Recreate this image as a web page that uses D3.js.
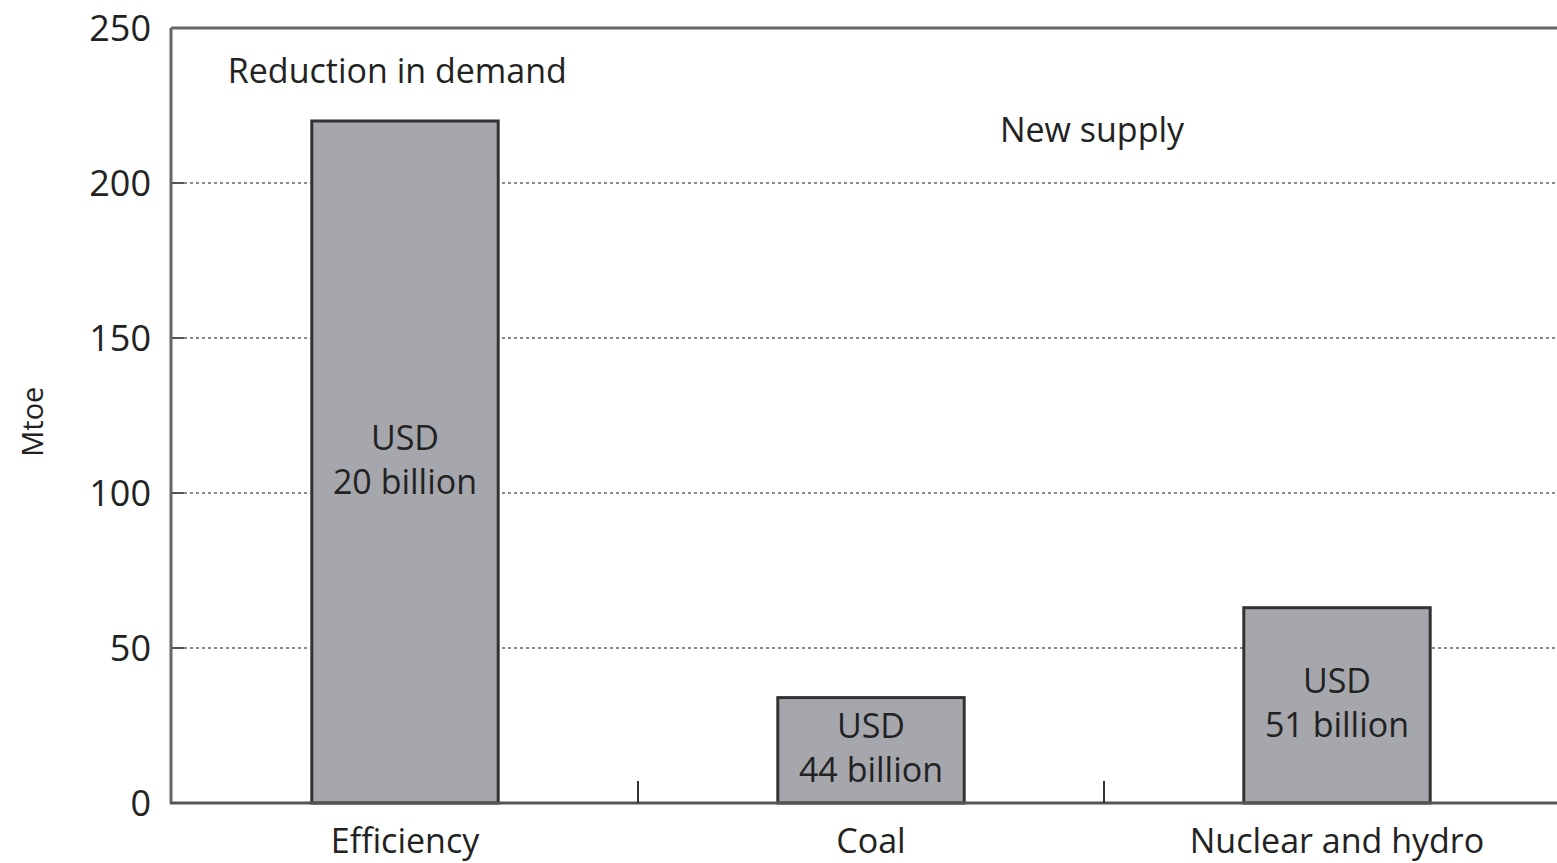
<!DOCTYPE html>
<html><head><meta charset="utf-8">
<script src="https://cdn.jsdelivr.net/npm/d3@7"></script>
<style>body{margin:0;background:#fff}svg{display:block}text{font-family:"Open Sans",Lato,sans-serif;fill:#222}</style>
</head><body>
<script>
const categories = ["Efficiency", "Coal", "Nuclear and hydro"];
const values = [220, 34, 63];
const barLabels = [["USD", "20 billion"], ["USD", "44 billion"], ["USD", "51 billion"]];
const yTicks = [0, 50, 100, 150, 200, 250];
const groupLabels = ["Reduction in demand", "New supply"];

const W = 1557, H = 863;
const svg = d3.select("body").append("svg").attr("width", W).attr("height", H);
const x = d3.scaleBand().domain(categories).range([172, 1570]).paddingInner(0.6).paddingOuter(0.3);
const y = d3.scaleLinear().domain([0, 250]).range([803, 28]);
const step = x.step();
const fs = 34;

// grid lines
svg.append("g").selectAll("line").data(yTicks.filter(t => t > 0 && t < 250)).join("line")
  .attr("x1", 172).attr("x2", W).attr("y1", d => y(d)).attr("y2", d => y(d))
  .attr("stroke", "#8a8a8a").attr("stroke-width", 2).attr("stroke-dasharray", "3,3");
svg.append("g").selectAll("line").data(yTicks.filter(t => t > 0 && t < 250)).join("line")
  .attr("x1", 172).attr("x2", 184).attr("y1", d => y(d)).attr("y2", d => y(d))
  .attr("stroke", "#555").attr("stroke-width", 2);

// frame
svg.append("line").attr("x1", 171).attr("x2", W).attr("y1", y(250)).attr("y2", y(250)).attr("stroke", "#666").attr("stroke-width", 3);
svg.append("line").attr("x1", 171).attr("x2", 171).attr("y1", y(250)).attr("y2", y(0)).attr("stroke", "#666").attr("stroke-width", 3);

// bars
svg.append("g").selectAll("rect").data(categories).join("rect")
  .attr("x", d => x(d)).attr("width", x.bandwidth())
  .attr("y", (d, i) => y(values[i])).attr("height", (d, i) => y(0) - y(values[i]))
  .attr("fill", "#a5a7ad").attr("stroke", "#333").attr("stroke-width", 3);

// baseline
svg.append("line").attr("x1", 170).attr("x2", W).attr("y1", y(0)).attr("y2", y(0)).attr("stroke", "#555").attr("stroke-width", 3);
svg.append("g").selectAll("line").data(categories.slice(1)).join("line")
  .attr("x1", d => x(d) - x.paddingInner() * step / 2).attr("x2", d => x(d) - x.paddingInner() * step / 2)
  .attr("y1", y(0)).attr("y2", y(0) - 22).attr("stroke", "#333").attr("stroke-width", 2);

// y tick labels
svg.append("g").selectAll("text").data(yTicks).join("text")
  .attr("x", 151).attr("y", d => y(d)).attr("dy", "0.36em").attr("text-anchor", "end")
  .attr("font-size", 36).text(d => d);

// y axis title
svg.append("text").attr("transform", `translate(43,${y(123)}) rotate(-90)`)
  .attr("text-anchor", "middle").attr("font-size", 29).text("Mtoe");

// category labels
svg.append("g").selectAll("text").data(categories).join("text")
  .attr("x", d => x(d) + x.bandwidth() / 2).attr("y", 853).attr("text-anchor", "middle")
  .attr("font-size", fs).text(d => d);

// bar labels
categories.forEach((c, i) => {
  const cx = x(c) + x.bandwidth() / 2;
  const cy = (y(values[i]) + y(0)) / 2;
  const g = svg.append("text").attr("text-anchor", "middle").attr("font-size", fs);
  g.append("tspan").attr("x", cx).attr("y", cy - 12).text(barLabels[i][0]);
  g.append("tspan").attr("x", cx).attr("y", cy + 32).text(barLabels[i][1]);
});

// group labels
svg.append("text").attr("x", x("Efficiency") - 84).attr("y", y(236) + 12).attr("font-size", fs).text(groupLabels[0]);
svg.append("text").attr("x", x("Coal") + x.bandwidth() / 2 + 221).attr("y", y(217) + 12).attr("text-anchor", "middle").attr("font-size", fs).text(groupLabels[1]);
</script>
</body></html>
